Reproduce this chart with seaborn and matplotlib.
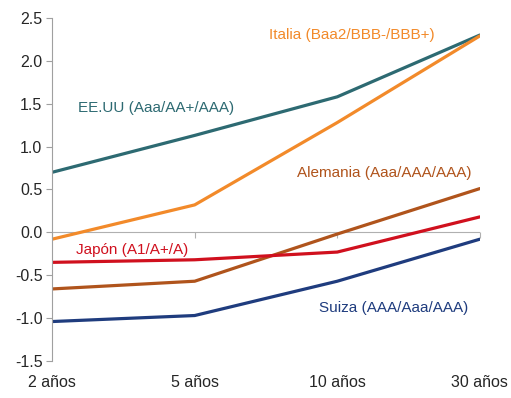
import pandas as pd
import numpy as np
import matplotlib
matplotlib.use('Agg')
import matplotlib.pyplot as plt
import seaborn as sns

plazos = ['2 años', '5 años', '10 años', '30 años']
paises = ['EE.UU', 'Italia', 'Alemania', 'Japón', 'Suiza']
eeuu = [0.70, 1.13, 1.58, 2.30]
italia = [-0.08, 0.32, 1.28, 2.29]
alemania = [-0.66, -0.57, -0.02, 0.51]
japon = [-0.35, -0.32, -0.23, 0.18]
suiza = [-1.04, -0.97, -0.57, -0.08]
etiquetas = ['EE.UU (Aaa/AA+/AAA)', 'Italia (Baa2/BBB-/BBB+)', 'Alemania (Aaa/AAA/AAA)',
             'Japón (A1/A+/A)', 'Suiza (AAA/Aaa/AAA)']
colores = ['#2D6A72', '#F28A2A', '#B0541C', '#D0101E', '#1F3C7E']

series = [eeuu, italia, alemania, japon, suiza]
df = pd.DataFrame({
    'pais': np.repeat(paises, len(plazos)),
    'x': np.tile(np.arange(len(plazos)), len(paises)),
    'rend': np.concatenate(series),
})

sns.set_style('white')
plt.rcParams['font.family'] = ['Liberation Sans', 'DejaVu Sans']

fig = plt.figure(figsize=(5.11, 3.98), dpi=100)
ax = fig.add_axes([0.102, 0.093, 0.837, 0.862])

sns.lineplot(data=df, x='x', y='rend', hue='pais', palette=dict(zip(paises, colores)),
             linewidth=2.3, legend=False, ax=ax)

ax.set_xlim(0, 3)
ax.set_ylim(-1.5, 2.5)
ax.set_yticks(np.arange(-1.5, 2.51, 0.5))
ax.set_yticklabels([f'{v:.1f}' for v in np.arange(-1.5, 2.51, 0.5)])
ax.set_xticks(range(len(plazos)))
ax.set_xticklabels(plazos)
ax.set_xlabel('')
ax.set_ylabel('')

for s in ['top', 'right', 'bottom']:
    ax.spines[s].set_visible(False)
ax.spines['left'].set_color('#A0A0A0')
ax.spines['left'].set_linewidth(0.8)
ax.tick_params(axis='y', length=4, color='#A0A0A0', labelsize=11.5, pad=3, left=True)
ax.tick_params(axis='x', length=0, labelsize=11.5, pad=10)

# eje de categorías cruzando en 0
ax.axhline(0, color='#B0B0B0', linewidth=0.8, zorder=0)
sec = ax.secondary_xaxis(1.5 / 4.0)
sec.set_xticks(range(len(plazos)))
sec.set_xticklabels([])
sec.tick_params(length=4, color='#B0B0B0', direction='out')
for s in sec.spines.values():
    s.set_visible(False)

pos_etq = [(0.18, 1.45), (1.52, 2.30), (1.72, 0.69), (0.17, -0.21), (1.87, -0.88)]
for (px, py), txt, c in zip(pos_etq, etiquetas, colores):
    ax.text(px, py, txt, color=c, fontsize=11, va='center', ha='left')

fig.savefig('out.png', dpi=100)
